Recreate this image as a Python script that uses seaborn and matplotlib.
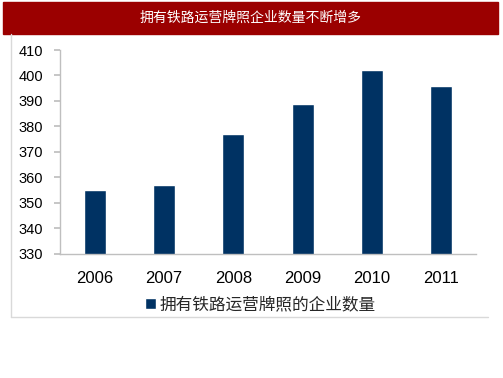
import numpy as np
import pandas as pd
import seaborn as sns
import matplotlib.pyplot as plt
from matplotlib.patches import Rectangle
from matplotlib.lines import Line2D

# data
years = ['2006', '2007', '2008', '2009', '2010', '2011']
counts = [355, 357, 377, 389, 402, 396]
series_name = '拥有铁路运营牌照的企业数量'
title = '拥有铁路运营牌照企业数量不断增多'

df = pd.DataFrame({'year': years, 'count': counts})

sns.set_theme(style='white')
plt.rcParams['font.family'] = ['Liberation Sans', 'Noto Sans CJK SC']

fig = plt.figure(figsize=(5.03, 3.78), dpi=100)
W, H = 503, 378

# red title bar
fig.patches.append(Rectangle((3 / W, 1 - 34 / H), 495 / W, 32 / H,
                             transform=fig.transFigure, color='#9B0000', zorder=0))
fig.text(251 / W, 1 - 18 / H, title, color='white', fontsize=10,
         ha='center', va='center', family=['Noto Sans CJK SC'])

# light panel border (left + bottom)
fig.lines.append(Line2D([11 / W, 11 / W], [1 - 34 / H, 1 - 317 / H],
                        transform=fig.transFigure, color='#D9D9D9', lw=1))
fig.lines.append(Line2D([11 / W, 488 / W], [1 - 317 / H, 1 - 317 / H],
                        transform=fig.transFigure, color='#D9D9D9', lw=1))

ax = fig.add_axes([60 / W, 1 - 254 / H, 416 / W, 204 / H])
sns.barplot(data=df, x='year', y='count', color='#003263', width=0.32,
            saturation=1, label=series_name, ax=ax)

ax.set_ylim(330, 410)
ax.set_yticks(np.arange(330, 411, 10))
ax.set_xlim(-0.5, 5.5)
ax.set_xlabel('')
ax.set_ylabel('')
sns.despine(ax=ax)
for s in ['left', 'bottom']:
    ax.spines[s].set_color('#BFBFBF')
    ax.spines[s].set_linewidth(1)
ax.tick_params(axis='y', which='both', left=True, length=4, color='#BFBFBF',
               labelsize=10.5, pad=8, labelcolor='black')
ax.tick_params(axis='x', bottom=False, labelsize=12, pad=6, labelcolor='black')

ax.legend(loc='center left', bbox_to_anchor=(130 / W, 1 - 305 / H),
          bbox_transform=fig.transFigure, frameon=False,
          handlelength=0.65, handleheight=0.65, handletextpad=0.2,
          prop={'family': ['Noto Sans CJK SC'], 'size': 12})

fig.savefig('out.png', dpi=100, facecolor='white')
